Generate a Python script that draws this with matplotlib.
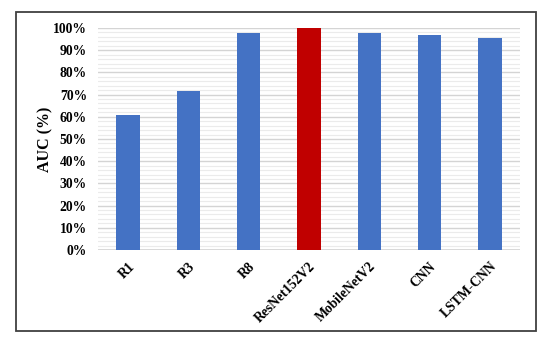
import matplotlib
matplotlib.use("Agg")
import matplotlib.pyplot as plt
from matplotlib.patches import Rectangle
from matplotlib.ticker import MultipleLocator, PercentFormatter

categories = ["R1", "R3", "R8", "ResNet152V2", "MobileNetV2", "CNN", "LSTM-CNN"]
auc = [61.0, 71.6, 97.9, 99.9, 97.6, 96.8, 95.4]
colors = ["#4472C4", "#4472C4", "#4472C4", "#C00000", "#4472C4", "#4472C4", "#4472C4"]

plt.rcParams['font.family'] = ['Liberation Serif', 'DejaVu Serif']

fig = plt.figure(figsize=(5.5, 3.41), dpi=100)
ax = fig.add_axes([98/550, 1-250/341, (520-98)/550, (250-28)/341])

x = range(len(categories))
ax.bar(x, auc, width=0.39, color=colors, zorder=3)
ax.set_xlim(-0.5, len(categories)-0.5)
ax.set_ylim(0, 100)
ax.yaxis.set_major_locator(MultipleLocator(10))
ax.yaxis.set_minor_locator(MultipleLocator(2))
ax.yaxis.set_major_formatter(PercentFormatter(decimals=0))
ax.grid(axis='y', which='major', color='#d4d4d4', linewidth=1.0, zorder=0)
ax.grid(axis='y', which='minor', color='#ebebeb', linewidth=0.8, zorder=0)
for s in ax.spines.values():
    s.set_visible(False)
ax.axhline(0, color='#d4d4d4', linewidth=1.2, zorder=2)
ax.tick_params(axis='both', which='both', length=0)
ax.set_xticks(list(x))
ax.set_xticklabels(categories, rotation=45, ha='right', va='top',
                   rotation_mode='anchor', fontsize=9.8, fontweight='bold')
for lab in ax.get_yticklabels():
    lab.set_fontweight('bold')
    lab.set_fontsize(9.8)
ax.tick_params(axis='y', pad=8)
ax.tick_params(axis='x', pad=7)
ax.set_ylabel("AUC (%)", fontsize=11.5, fontweight='bold', labelpad=0)

fig.patches.append(Rectangle((16/550, 1-331/341), (536-16)/550, (331-12)/341,
                             transform=fig.transFigure, fill=False,
                             edgecolor='#404040', linewidth=1.3))

fig.savefig("out.png", dpi=100)
